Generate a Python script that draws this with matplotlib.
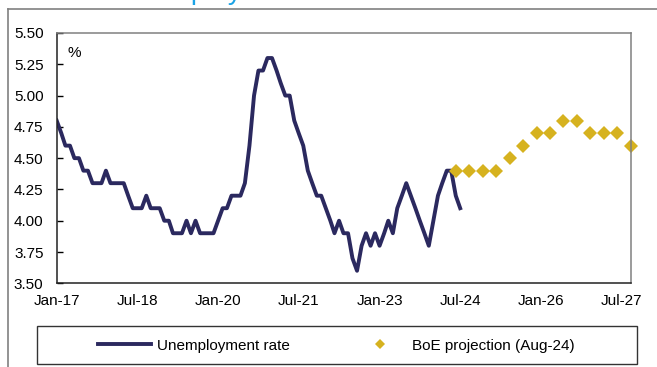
import matplotlib
matplotlib.use('Agg')
import matplotlib.pyplot as plt
import matplotlib.dates as mdates
from matplotlib.lines import Line2D
from matplotlib.patches import Rectangle
import pandas as pd

plt.rcParams['font.family'] = ['Liberation Sans', 'DejaVu Sans']

# monthly unemployment rate, Jan-17 .. Jul-24 (%)
unemployment = [4.8, 4.7, 4.6, 4.6, 4.5, 4.5, 4.4, 4.4, 4.3, 4.3,
                4.3, 4.4, 4.3, 4.3, 4.3, 4.3, 4.2, 4.1, 4.1, 4.1,
                4.2, 4.1, 4.1, 4.1, 4.0, 4.0, 3.9, 3.9, 3.9, 4.0,
                3.9, 4.0, 3.9, 3.9, 3.9, 3.9, 4.0, 4.1, 4.1, 4.2,
                4.2, 4.2, 4.3, 4.6, 5.0, 5.2, 5.2, 5.3, 5.3, 5.2,
                5.1, 5.0, 5.0, 4.8, 4.7, 4.6, 4.4, 4.3, 4.2, 4.2,
                4.1, 4.0, 3.9, 4.0, 3.9, 3.9, 3.7, 3.6, 3.8, 3.9,
                3.8, 3.9, 3.8, 3.9, 4.0, 3.9, 4.1, 4.2, 4.3, 4.2,
                4.1, 4.0, 3.9, 3.8, 4.0, 4.2, 4.3, 4.4, 4.4, 4.2,
                4.1]
months = pd.date_range('2017-01-01', periods=len(unemployment), freq='MS')

# BoE projection (Aug-24), quarterly, Q2-24 .. Q3-27
projection = [4.4, 4.4, 4.4, 4.4, 4.5, 4.6, 4.7, 4.7, 4.8, 4.8, 4.7, 4.7, 4.7, 4.6]
quarters = pd.date_range('2024-06-01', periods=len(projection), freq='3MS')

tick_dates = pd.date_range('2017-01-01', '2027-07-01', freq='18MS')
y_ticks = [3.50, 3.75, 4.00, 4.25, 4.50, 4.75, 5.00, 5.25, 5.50]

navy = '#2b295f'
gold = '#d6b21f'

W, H = 657, 367
fig = plt.figure(figsize=(W / 100, H / 100), dpi=100)

# outer frame of the slide panel
fig.add_artist(Line2D([8 / W, 1], [1 - 9 / H, 1 - 9 / H], color='#808080', lw=1.2))
fig.add_artist(Line2D([8 / W, 8 / W], [0, 1 - 9 / H], color='#808080', lw=1.2))

# title, mostly above the top edge as in the source crop
fig.text(118 / W, 1 + 1 / H, 'Unemployment', color='#1ba3e6', fontsize=20,
         va='baseline')

ax = fig.add_axes([56.7 / W, 1 - 283.3 / H, 574 / W, 250.3 / H])
ax.plot(months, unemployment, color=navy, lw=2.8, solid_joinstyle='round')
ax.plot(quarters, projection, linestyle='none', marker='D', ms=6.8,
        color=gold, markeredgewidth=0, clip_on=False)

ax.set_xlim(pd.Timestamp('2017-01-01'), pd.Timestamp('2027-09-01'))
ax.set_ylim(3.5, 5.5)
ax.set_xticks(tick_dates)
ax.xaxis.set_major_formatter(mdates.DateFormatter('%b-%y'))
ax.set_yticks(y_ticks)
ax.set_yticklabels(['%.2f' % v for v in y_ticks])
ax.tick_params(axis='x', length=0, pad=8, labelsize=11)
ax.tick_params(axis='y', direction='in', length=4, width=1, pad=9.5, labelsize=11)

for s in ['left', 'bottom']:
    ax.spines[s].set_color('#222222')
for s in ['top', 'right']:
    ax.spines[s].set_color('#808080')
for s in ax.spines.values():
    s.set_linewidth(1.1)

ax.text(0.018, 0.948, '%', transform=ax.transAxes, fontsize=11, va='top')

# legend box
fig.add_artist(Rectangle((37 / W, 1 - 364 / H), 600 / W, 38 / H, fill=False,
                         edgecolor='#333333', lw=1.0))
handles = [Line2D([], [], color=navy, lw=2.8),
           Line2D([], [], linestyle='none', marker='D', ms=4.8, color=gold,
                  markeredgewidth=0)]
fig.legend(handles, ['Unemployment rate', 'BoE projection (Aug-24)'],
           loc='center left', bbox_to_anchor=(98 / W, 1 - 345.7 / H),
           ncol=2, frameon=False, fontsize=11, handlelength=3.5,
           handletextpad=0.33, columnspacing=4.2, borderpad=0, borderaxespad=0)

fig.savefig('out.png', dpi=100)
